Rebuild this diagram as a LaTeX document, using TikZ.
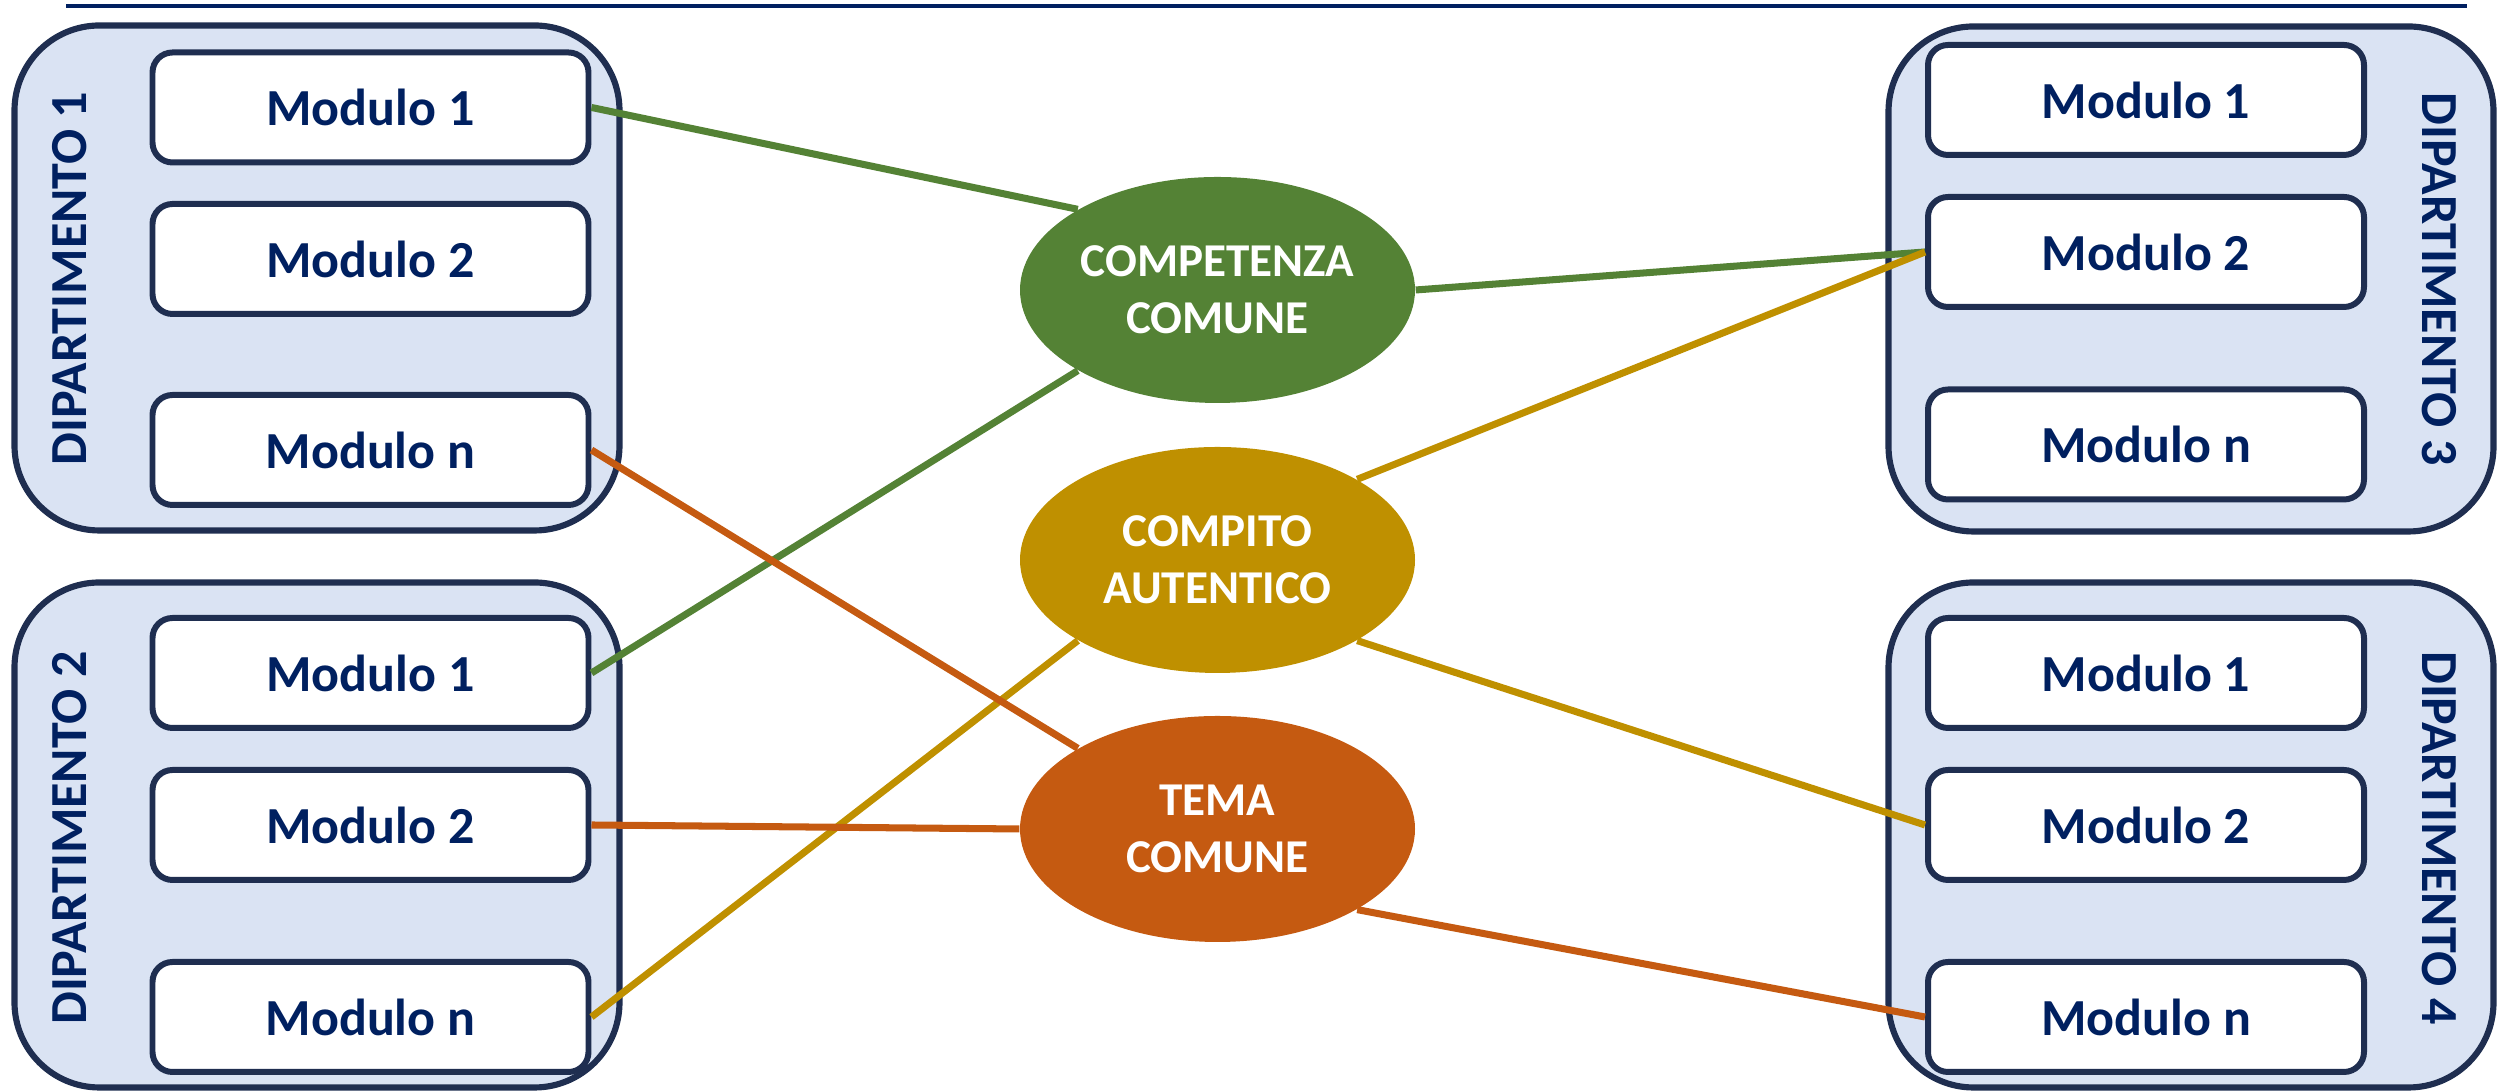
\documentclass[tikz,border=0pt]{standalone}
\usepackage{fontspec}
\setmainfont{Carlito}
\usetikzlibrary{shapes.geometric}
\begin{document}
\begin{tikzpicture}[
	dip/.style={draw=bordo, line width=1.75pt, fill=celeste, rounded corners=0.85cm, minimum width=6.05cm, minimum height=5.05cm},
	modulo/.style={draw=bordo, line width=1.7pt, fill=white, rounded corners=0.2cm, minimum width=4.36cm, minimum height=1.1cm, text=blu, font=\bfseries\fontsize{14.8}{17}\selectfont},
	etichetta/.style={text=blu, font=\bfseries\fontsize{14.8}{17}\selectfont},
	tema/.style={ellipse, fill=#1, minimum width=3.95cm, minimum height=2.26cm, inner sep=0pt, text=white, align=center, font=\bfseries\fontsize{13.4}{16.2}\selectfont},
	legame/.style={draw=#1, line width=2pt}
	]
	\definecolor{verde}{RGB}{84,130,53}
	\definecolor{oro}{RGB}{191,144,0}
	\definecolor{arancio}{RGB}{197,90,17}
	\definecolor{celeste}{RGB}{218,227,243}
	\definecolor{bordo}{RGB}{31,46,80}
	\definecolor{blu}{RGB}{0,32,96}
	
	\useasboundingbox (0,0) rectangle (24.99,10.92);
	
	%linea in alto
	\draw[blu, line width=1.4pt] (0.66,10.86) -- (24.67,10.86);
	
	%dipartimenti
	\node[dip] (d1) at (3.17,8.14) {};
	\node[dip] (d2) at (3.17,2.57) {};
	\node[dip] (d3) at (21.91,8.13) {};
	\node[dip] (d4) at (21.91,2.57) {};
	
	\node[etichetta, rotate=90] (e1) at (0.70,8.135) {DIPARTIMENTO 1};
	\node[etichetta, rotate=90] (e2) at (0.70,2.54) {DIPARTIMENTO 2};
	\node[etichetta, rotate=-90] (e3) at (24.39,8.125) {DIPARTIMENTO 3};
	\node[etichetta, rotate=-90] (e4) at (24.39,2.54) {DIPARTIMENTO 4};
	
	%moduli
	\foreach \nome/\x/\y/\testo in {
		d1m1/3.705/9.845/Modulo 1,
		d1m2/3.705/8.33/Modulo 2,
		d1mn/3.705/6.42/Modulo n,
		d2m1/3.705/4.19/Modulo 1,
		d2m2/3.705/2.67/Modulo 2,
		d2mn/3.705/0.75/Modulo n,
		d3m1/21.46/9.92/Modulo 1,
		d3m2/21.46/8.40/Modulo 2,
		d3mn/21.46/6.475/Modulo n,
		d4m1/21.46/4.19/Modulo 1,
		d4m2/21.46/2.67/Modulo 2,
		d4mn/21.46/0.75/Modulo n
	}{
		\node[modulo] (\nome) at (\x,\y) {\testo};
	}
	
	%ellissi
	\node[tema=verde] (comp) at (12.175,8.02) {COMPETENZA\\COMUNE};
	\node[tema=oro] (auto) at (12.175,5.32) {COMPITO\\AUTENTICO};
	\node[tema=arancio] (comune) at (12.175,2.63) {TEMA\\COMUNE};
	
	%collegamenti
	\draw[legame=verde] (d1m1.east) -- (comp.150);
	\draw[legame=verde] (d2m1.east) -- (comp.210);
	\draw[legame=verde] (comp.east) -- (d3m2.west);
	\draw[legame=oro] (auto.30) -- (d3m2.west);
	\draw[legame=oro] (auto.210) -- (d2mn.east);
	\draw[legame=oro] (auto.330) -- (d4m2.west);
	\draw[legame=arancio] (d1mn.east) -- (comune.150);
	\draw[legame=arancio] (d2m2.east) -- (comune.west);
	\draw[legame=arancio] (comune.330) -- (d4mn.west);
\end{tikzpicture}
\end{document}
